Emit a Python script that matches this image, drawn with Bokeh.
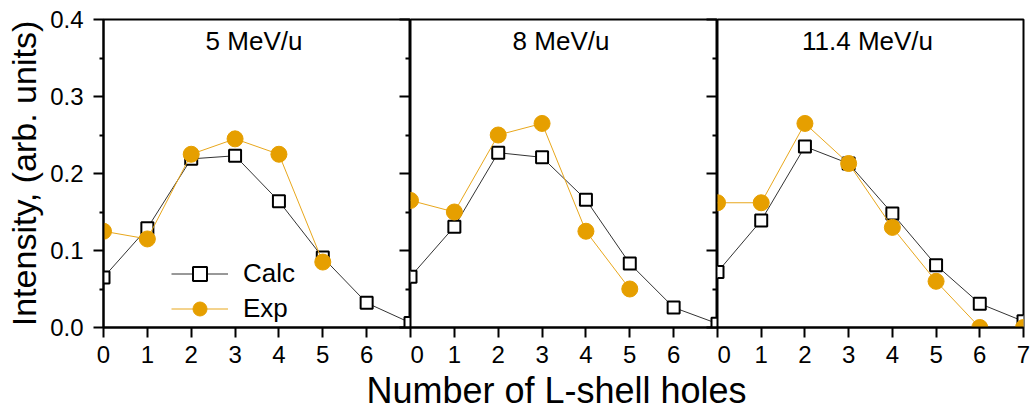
from bokeh.plotting import figure
from bokeh.layouts import row, column
from bokeh.models import (FixedTicker, LinearAxis, Label, Legend, LegendItem,
                          Range1d, PrintfTickFormatter)
from bokeh.embed import file_html
from bokeh.resources import INLINE

# Number of L-shell holes
holes = [0, 1, 2, 3, 4, 5, 6, 7]

# Panel titles (projectile energy)
energies = ["5 MeV/u", "8 MeV/u", "11.4 MeV/u"]

# Calculated intensities
calc_5 = [0.065, 0.129, 0.219, 0.223, 0.164, 0.091, 0.032, 0.006]
calc_8 = [0.066, 0.131, 0.227, 0.221, 0.166, 0.083, 0.026, 0.005]
calc_11 = [0.072, 0.139, 0.235, 0.213, 0.148, 0.081, 0.031, 0.008]

# Measured intensities
exp_5 = [0.125, 0.115, 0.225, 0.245, 0.225, 0.085]
exp_8 = [0.165, 0.150, 0.250, 0.265, 0.125, 0.050]
exp_11 = [0.162, 0.162, 0.265, 0.213, 0.130, 0.060, 0.0, 0.0]

y_major = [0.0, 0.1, 0.2, 0.3, 0.4]
y_minor = [0.05, 0.15, 0.25, 0.35]

FONT = "Liberation Sans"
CALC_COLOR = "#333333"
EXP_COLOR = "#E69F00"
EXP_LINE = "#E8A71C"

y_range = Range1d(0, 0.4)


def make_panel(title, calc, exp, width, left, right, first, last):
    p = figure(width=width, height=375, x_range=Range1d(0, 7), y_range=y_range,
               toolbar_location=None, output_backend="svg", title=None,
               min_border_left=left, min_border_right=right,
               min_border_top=19, min_border_bottom=48,
               y_axis_location="left" if first else None)
    p.xgrid.visible = False
    p.ygrid.visible = False
    p.outline_line_color = "black"
    p.outline_line_width = 2
    p.background_fill_color = "white"
    p.border_fill_color = "white"

    xa = p.xaxis[0]
    xa.ticker = FixedTicker(ticks=holes, minor_ticks=[])
    if not last:
        xa.major_label_overrides = {7: ""}
    xa.axis_line_width = 2
    xa.major_tick_line_width = 2
    xa.major_tick_out = 10
    xa.major_tick_in = 0
    xa.minor_tick_line_color = None
    xa.major_label_standoff = 8
    xa.major_label_text_font = FONT
    xa.major_label_text_font_size = "24px"
    xa.major_label_text_color = "black"

    if first:
        ya = p.yaxis[0]
        ya.ticker = FixedTicker(ticks=y_major, minor_ticks=y_minor)
        ya.formatter = PrintfTickFormatter(format="%.1f")
        ya.axis_line_width = 2
        ya.major_tick_line_width = 2
        ya.minor_tick_line_width = 2
        ya.major_tick_out = 10
        ya.major_tick_in = 0
        ya.minor_tick_out = 4
        ya.minor_tick_in = 0
        ya.major_label_standoff = 10
        ya.major_label_text_font = FONT
        ya.major_label_text_font_size = "24px"
        ya.major_label_text_color = "black"
        ya.axis_label = "Intensity, (arb. units)"
        ya.axis_label_text_font = FONT
        ya.axis_label_text_font_size = "34px"
        ya.axis_label_text_font_style = "normal"
        ya.axis_label_text_color = "black"
        ya.axis_label_standoff = 4

    if not last:
        # ticks of the neighbouring panel's left axis, pointing into this panel
        ra = LinearAxis(ticker=FixedTicker(ticks=y_major, minor_ticks=y_minor),
                        major_tick_in=11, major_tick_out=0,
                        minor_tick_in=5, minor_tick_out=0,
                        major_tick_line_width=2, minor_tick_line_width=2,
                        axis_line_width=2, major_label_standoff=0,
                        major_label_overrides={t: "" for t in y_major})
        p.add_layout(ra, "right")

    n_exp = len(exp)
    r_cl = p.line(holes, calc, line_color=CALC_COLOR, line_width=1)
    r_cs = p.scatter(holes, calc, marker="square", size=12, line_color="black",
                     line_width=2, fill_color="white")
    r_el = p.line(holes[:n_exp], exp, line_color=EXP_LINE, line_width=1)
    r_es = p.scatter(holes[:n_exp], exp, marker="circle", size=16,
                     line_color=EXP_COLOR, fill_color=EXP_COLOR)

    p.add_layout(Label(x=3.5, y=0.372, x_offset=-3, text=title,
                       text_align="center", text_baseline="middle",
                       text_font=FONT, text_font_size="26px",
                       text_color="black"))

    if first:
        legend = Legend(items=[LegendItem(label="Calc", renderers=[r_cl, r_cs]),
                               LegendItem(label="Exp", renderers=[r_el, r_es])],
                        location=(68, 1), padding=0, margin=0, spacing=-3,
                        glyph_width=57, glyph_height=35, label_height=35,
                        label_standoff=15, label_text_font=FONT,
                        label_text_font_size="26px", label_text_color="black",
                        border_line_color=None, background_fill_alpha=0)
        p.add_layout(legend)
    return p


p1 = make_panel(energies[0], calc_5, exp_5, 410, 103, 0, True, False)
p2 = make_panel(energies[1], calc_8, exp_8, 307, 0, 0, False, False)
p3 = make_panel(energies[2], calc_11, exp_11, 313, 0, 7, False, True)

# shared x-axis title below the three panels
xt = figure(width=1030, height=32, x_range=Range1d(0, 1030), y_range=Range1d(0, 32),
            toolbar_location=None, output_backend="svg", title=None, min_border=0,
            x_axis_location=None, y_axis_location=None, outline_line_color=None)
xt.grid.visible = False
xt.add_layout(Label(x=556, y=17, text="Number of L-shell holes", text_align="center",
                    text_baseline="middle", text_font=FONT,
                    text_font_size="36px", text_color="black"))

layout = column(row(p1, p2, p3, spacing=0), xt, spacing=0)

open("out.html", "w").write(file_html(layout, INLINE))
